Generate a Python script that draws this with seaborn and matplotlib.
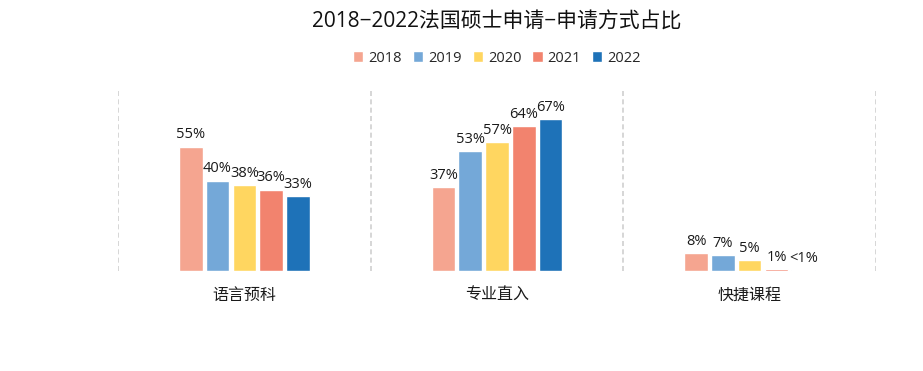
import matplotlib
matplotlib.use("Agg")
import matplotlib.pyplot as plt
import seaborn as sns
import pandas as pd

categories = ["语言预科", "专业直入", "快捷课程"]
years = ["2018", "2019", "2020", "2021", "2022"]
values_2018 = [55, 37, 8]
values_2019 = [40, 53, 7]
values_2020 = [38, 57, 5]
values_2021 = [36, 64, 1]
values_2022 = [33, 67, 0.3]
labels_2018 = ["55%", "37%", "8%"]
labels_2019 = ["40%", "53%", "7%"]
labels_2020 = ["38%", "57%", "5%"]
labels_2021 = ["36%", "64%", "1%"]
labels_2022 = ["33%", "67%", "<1%"]
colors = ["#F5A590", "#74A8D8", "#FFD660", "#F2836E", "#1E72B8"]
title = "2018−2022法国硕士申请−申请方式占比"

series = [values_2018, values_2019, values_2020, values_2021, values_2022]
labels = [labels_2018, labels_2019, labels_2020, labels_2021, labels_2022]
rows = []
for y, vals in zip(years, series):
    for c, v in zip(categories, vals):
        rows.append({"category": c, "year": y, "value": v})
df = pd.DataFrame(rows)

sns.set_theme(style="white")
plt.rcParams["font.family"] = ["Open Sans", "Noto Sans CJK SC", "DejaVu Sans"]

fig = plt.figure(figsize=(9.23, 3.71), dpi=100)
ax = fig.add_axes([118 / 923, 100 / 371, (876 - 118) / 923, 181 / 371])

sns.barplot(data=df, x="category", y="value", hue="year", order=categories,
            hue_order=years, palette=colors, width=0.53, gap=0.12,
            saturation=1, ax=ax, legend=True)

for cont, labs in zip(ax.containers, labels):
    ax.bar_label(cont, labels=labs, padding=3, fontsize=10.5, color="#1a1a1a")

ax.set_xlim(-0.5, 2.5)
ax.set_ylim(0, 80)
for xv in [-0.5, 0.5, 1.5, 2.5]:
    ax.axvline(xv, color="#cfcfcf", linestyle=(0, (3, 2)), linewidth=1.2)

for s in ax.spines.values():
    s.set_visible(False)
ax.set_yticks([])
ax.set_xlabel("")
ax.set_ylabel("")
ax.tick_params(axis="x", length=0, pad=12, labelsize=11.5, labelcolor="#1a1a1a")

cx = 497 / 923
handles, labs = ax.get_legend_handles_labels()
ax.get_legend().remove()
fig.legend(handles, labs, loc="center", bbox_to_anchor=(cx, 1 - 58 / 371),
           ncol=5, frameon=False, fontsize=10.5, handlelength=0.7,
           handleheight=0.7, handletextpad=0.35, columnspacing=0.75)

fig.text(cx, 1 - 22 / 371, title, ha="center", va="center", fontsize=15,
         color="#111111")

fig.savefig("out.png", dpi=100, facecolor="white")
